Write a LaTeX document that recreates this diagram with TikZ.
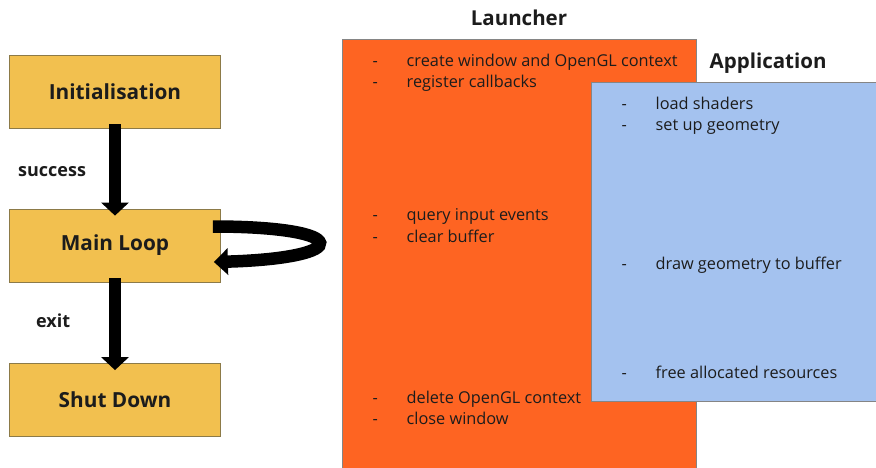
\documentclass[tikz,border=0pt]{standalone}
\usepackage{fontspec}
\setmainfont{Open Sans}
\usetikzlibrary{arrows.meta}
\definecolor{boxyellow}{HTML}{F2C04F}
\definecolor{boxedge}{HTML}{8C7A48}
\definecolor{launcherorange}{HTML}{FE6422}
\definecolor{appblue}{HTML}{A4C2EF}
\definecolor{paneledge}{HTML}{858585}
\definecolor{textdark}{HTML}{1C1C1C}
\tikzset{
  statebox/.style={draw=boxedge, line width=0.8pt, fill=boxyellow, minimum width=211pt, minimum height=73pt, inner sep=0pt, text=textdark, font=\bfseries\fontsize{20.8}{24}\selectfont},
  bigarrow/.style={draw=black, line width=12pt, -{Triangle[width=27pt,length=13pt]}},
  panel/.style={draw=paneledge, line width=0.8pt, anchor=north west, inner sep=0pt},
  titletext/.style={inner sep=0pt, text=textdark, font=\bfseries\fontsize{20.5}{24}\selectfont},
  edgelabel/.style={inner sep=0pt, anchor=base west, text=textdark, font=\bfseries\fontsize{18}{21}\selectfont},
  item/.style={inner sep=0pt, anchor=base west, text=textdark, font=\fontsize{16.3}{19}\selectfont},
}
\newcommand{\itm}[1]{\makebox[34pt][l]{-}#1}
\begin{document}
\begin{tikzpicture}[x=1pt,y=-1pt]
\clip (0,0) rectangle (876,467);
\fill[white] (0,0) rectangle (876,467);

% panels
\node[panel, fill=launcherorange, minimum width=354pt, minimum height=440pt] (launcher) at (342,39) {};
\node[panel, fill=appblue, minimum width=300pt, minimum height=319pt] (app) at (590.5,81.7) {};

\node[titletext, anchor=base] (launchertitle) at (519,25) {Launcher};
\node[titletext, anchor=base west] (apptitle) at (709.5,68.5) {Application};

% launcher items
\node[item] (l1) at (372.5,66.7) {\itm{create window and OpenGL context}};
\node[item] (l2) at (372.5,87.3) {\itm{register callbacks}};
\node[item] (l3) at (372.5,220.7) {\itm{query input events}};
\node[item] (l4) at (372.5,242) {\itm{clear buffer}};
\node[item] (l5) at (372.5,403.3) {\itm{delete OpenGL context}};
\node[item] (l6) at (372.5,424.3) {\itm{close window}};

% application items
\node[item] (a1) at (621.5,109.3) {\itm{load shaders}};
\node[item] (a2) at (621.5,130) {\itm{set up geometry}};
\node[item] (a3) at (621.5,269.3) {\itm{draw geometry to buffer}};
\node[item] (a4) at (621.5,378.3) {\itm{free allocated resources}};

% state boxes
\node[statebox] (init) at (115,91.5) {Initialisation};
\node[statebox] (main) at (115,245.5) {Main Loop};
\node[statebox] (shut) at (115,400) {Shut Down};

% arrows
\draw[bigarrow] ([yshift=4pt]init.south) -- ([yshift=-7pt]main.north);
\draw[bigarrow] ([yshift=4pt]main.south) -- ([yshift=-7pt]shut.north);
\coordinate (loopstart) at ([xshift=-8pt,yshift=19pt]main.east);
\coordinate (loopend) at ([xshift=-7pt,yshift=-16.5pt]main.east);
\draw[draw=black, line width=12.5pt, -{Triangle[width=26pt,length=14pt]}]
  (loopstart) .. controls +(140,0) and +(140,-4) .. (loopend);

\node[edgelabel] (successlabel) at (18,176) {success};
\node[edgelabel] (exitlabel) at (36,327) {exit};
\end{tikzpicture}
\end{document}
